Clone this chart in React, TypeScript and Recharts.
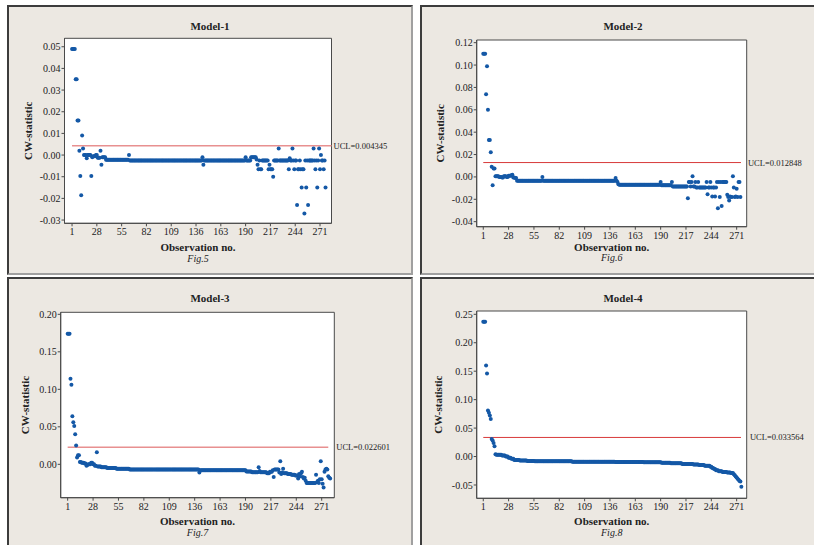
import { Label, ReferenceArea, ReferenceLine, Scatter, ScatterChart, XAxis, YAxis } from "recharts";

const observationTicks = [1, 28, 55, 82, 109, 136, 163, 190, 217, 244, 271];

// each entry: [CW-statistic, number of consecutive observations at that value]
const model1Runs: [number, number][] = [
  [0.049, 4], [0.035, 2], [0.016, 2], [0.002, 1], [-0.0097, 1], [-0.0185, 1], [0.009, 1], [0.003, 1],
  [0, 3], [-0.0015, 1], [0, 4], [-0.0097, 1], [-0.001, 1], [-0.0005, 3], [0, 2], [-0.0012, 3],
  [0.002, 1], [-0.0045, 1], [-0.001, 4], [-0.0022, 25], [0, 1], [-0.0025, 79], [-0.001, 1], [-0.0045, 1],
  [-0.0025, 45], [-0.001, 1], [-0.0025, 5], [-0.001, 6], [-0.002, 1], [-0.0045, 1], [-0.0065, 1], [-0.0025, 1],
  [-0.0065, 2], [-0.0025, 7], [-0.0065, 1], [-0.0045, 1], [-0.0065, 3], [-0.01, 1], [-0.0025, 5], [0.003, 1],
  [-0.0025, 10], [-0.0065, 1], [-0.0015, 1], [-0.0025, 2], [0.003, 1], [-0.0025, 1], [-0.0065, 1], [-0.0025, 2],
  [-0.023, 1], [-0.0065, 2], [-0.0025, 1], [-0.0065, 1], [-0.015, 1], [-0.0065, 2], [-0.027, 1], [-0.0025, 1],
  [-0.015, 1], [-0.0025, 1], [-0.023, 1], [-0.0025, 5], [0.003, 1], [-0.0025, 1], [-0.0065, 1], [-0.0025, 1],
  [-0.015, 1], [-0.0025, 1], [0.003, 1], [-0.0065, 1], [0, 1], [-0.0025, 2], [-0.0065, 1], [-0.0025, 1],
  [-0.015, 1],
];

const model2Runs: [number, number][] = [
  [0.11, 3], [0.074, 1], [0.099, 1], [0.06, 1], [0.033, 2], [0.022, 1], [0.009, 1], [-0.0075, 1],
  [0.0075, 2], [0.0005, 4], [0, 3], [-0.0005, 2], [0.0005, 3], [0, 2], [0.001, 3], [0.0015, 1],
  [0.002, 1], [-0.0005, 2], [-0.001, 2], [-0.0035, 27], [0, 1], [-0.0035, 77], [-0.001, 1], [-0.0035, 1],
  [-0.0045, 1], [-0.0065, 1], [-0.007, 44], [-0.0045, 1], [-0.0075, 11], [-0.0045, 1], [-0.0085, 16], [-0.019, 1],
  [-0.0045, 2], [-0.0085, 1], [-0.0045, 1], [0.0005, 1], [-0.0085, 2], [-0.0045, 1], [-0.0095, 2], [-0.0045, 1],
  [-0.0095, 8], [-0.0045, 1], [-0.0155, 1], [-0.0095, 2], [-0.0045, 1], [-0.0095, 1], [-0.0175, 1], [-0.0095, 2],
  [-0.0175, 1], [-0.0095, 1], [-0.0045, 1], [-0.028, 1], [-0.0045, 1], [-0.018, 1], [-0.0045, 1], [-0.026, 1],
  [-0.0045, 5], [-0.016, 1], [-0.018, 1], [-0.021, 1], [-0.0175, 1], [-0.018, 2], [0.0005, 1], [-0.0095, 1],
  [-0.018, 1], [-0.0175, 1], [-0.0105, 1], [-0.018, 1], [-0.0045, 2], [-0.018, 1],
];

const model3Runs: [number, number][] = [
  [0.174, 3], [0.114, 1], [0.106, 1], [0.064, 1], [0.056, 1], [0.051, 1], [0.04, 1], [0.025, 1],
  [0.009, 1], [0.012, 2], [0.003, 2], [0.002, 3], [0.001, 2], [-0.002, 1], [-0.001, 1], [0, 3],
  [0.002, 2], [0, 2], [-0.002, 2], [0.016, 1], [-0.003, 4], [-0.004, 6], [-0.005, 10], [-0.006, 14],
  [-0.007, 74], [-0.011, 1], [-0.008, 49], [-0.0095, 6], [-0.0105, 7], [-0.004, 1], [-0.009, 1], [-0.0105, 7],
  [-0.012, 3], [-0.01, 3], [-0.008, 1], [-0.017, 1], [-0.007, 5], [-0.011, 1], [0.004, 1], [-0.013, 1],
  [-0.011, 1], [-0.006, 1], [-0.012, 4], [-0.013, 4], [-0.014, 4], [-0.015, 3], [-0.019, 1], [-0.013, 1],
  [-0.016, 1], [-0.012, 1], [-0.01, 1], [-0.017, 1], [-0.019, 1], [-0.018, 1], [-0.022, 1], [-0.025, 10],
  [-0.014, 1], [-0.024, 1], [-0.022, 1], [-0.025, 1], [-0.02, 1], [0.004, 1], [-0.02, 1], [-0.026, 1],
  [-0.031, 1], [-0.01, 1], [-0.007, 1], [-0.006, 1], [-0.007, 1], [-0.016, 1], [-0.018, 1], [-0.019, 1],
];

const model4Runs: [number, number][] = [
  [0.237, 3], [0.16, 1], [0.146, 1], [0.081, 1], [0.077, 1], [0.072, 1], [0.066, 1], [0.031, 1],
  [0.028, 1], [0.024, 1], [0.018, 1], [0.004, 1], [0.003, 6], [0.002, 4], [0, 3], [-0.002, 3],
  [-0.004, 3], [-0.006, 6], [-0.007, 8], [-0.008, 8], [-0.0085, 40], [-0.009, 46], [-0.0095, 30], [-0.01, 19],
  [-0.011, 10], [-0.012, 12], [-0.013, 12], [-0.014, 6], [-0.015, 6], [-0.016, 6], [-0.018, 2], [-0.02, 2],
  [-0.022, 2], [-0.024, 3], [-0.026, 4], [-0.027, 5], [-0.028, 4], [-0.029, 3], [-0.031, 1], [-0.033, 1],
  [-0.035, 1], [-0.037, 1], [-0.039, 1], [-0.041, 1], [-0.043, 1], [-0.044, 1], [-0.053, 1],
];

const model1Ticks = [-0.03, -0.02, -0.01, 0, 0.01, 0.02, 0.03, 0.04, 0.05];
const model2Ticks = [-0.04, -0.02, 0, 0.02, 0.04, 0.06, 0.08, 0.1, 0.12];
const model3Ticks = [0, 0.05, 0.1, 0.15, 0.2];
const model4Ticks = [-0.05, 0, 0.05, 0.1, 0.15, 0.2, 0.25];

const titles = ["Model-1", "Model-2", "Model-3", "Model-4"];
const figLabels = ["Fig.5", "Fig.6", "Fig.7", "Fig.8"];
const uclValues = [0.004345, 0.012848, 0.022601, 0.033564];

const colors = {
  page: "#ffffff",
  panel: "#ece8e2",
  dot: "#1458a6",
  frame: "#4a4a4a",
  text: "#222222",
  uclSoft: "#e89090",
  uclStrong: "#d83a3a",
};

const serif = '"Liberation Serif", "Times New Roman", serif';

type PanelSpec = {
  title: string;
  fig: string;
  runs: [number, number][];
  ucl: number;
  yTicks: number[];
  yDomain: [number, number];
  xDomain: [number, number];
  uclEnd: number;
  uclOffset: number;
  uclColor: string;
  uclWidth: number;
  left: number;
  top: number;
  plot: { axisW: number; top: number; right: number; axisH: number; yLabelX: number; obsDy: number; figDy: number };
};

function expandRuns(runs: [number, number][]) {
  const out: { obs: number; value: number }[] = [];
  let obs = 1;
  for (const [value, count] of runs) {
    for (let i = 0; i < count; i++) out.push({ obs: obs++, value });
  }
  return out;
}

const panels: PanelSpec[] = [
  {
    title: titles[0], fig: figLabels[0], runs: model1Runs, ucl: uclValues[0], yTicks: model1Ticks,
    yDomain: [-0.0315, 0.0539], xDomain: [-7.2, 283.5], uclEnd: 283.5, uclOffset: 2,
    uclColor: colors.uclSoft, uclWidth: 1.5, left: 7, top: 5,
    plot: { axisW: 55.5, top: 31.3, right: 79.5, axisH: 49.7, yLabelX: 19, obsDy: 23.4, figDy: 34.7 },
  },
  {
    title: titles[1], fig: figLabels[1], runs: model2Runs, ucl: uclValues[1], yTicks: model2Ticks,
    yDomain: [-0.0445, 0.1224], xDomain: [-6, 281.7], uclEnd: 275.6, uclOffset: 7,
    uclColor: colors.uclStrong, uclWidth: 1, left: 420, top: 5,
    plot: { axisW: 54.7, top: 33, right: 77.3, axisH: 46.3, yLabelX: 18, obsDy: 20.6, figDy: 31 },
  },
  {
    title: titles[2], fig: figLabels[2], runs: model3Runs, ucl: uclValues[2], yTicks: model3Ticks,
    yDomain: [-0.0445, 0.2027], xDomain: [-6.4, 284.4], uclEnd: 278, uclOffset: 8,
    uclColor: colors.uclSoft, uclWidth: 1.5, left: 7, top: 277,
    plot: { axisW: 51.7, top: 33.3, right: 76.7, axisH: 47.3, yLabelX: 16, obsDy: 23, figDy: 34.6 },
  },
  {
    title: titles[3], fig: figLabels[3], runs: model4Runs, ucl: uclValues[3], yTicks: model4Ticks,
    yDomain: [-0.0734, 0.2558], xDomain: [-6, 281.7], uclEnd: 275.6, uclOffset: 9,
    uclColor: colors.uclStrong, uclWidth: 1, left: 420, top: 277,
    plot: { axisW: 54.7, top: 32, right: 77.3, axisH: 46.7, yLabelX: 16.3, obsDy: 22.4, figDy: 34 },
  },
];

const renderDot = (props: any) => <circle cx={props.cx} cy={props.cy} r={2} fill={colors.dot} />;

function Panel({ spec }: { spec: PanelSpec }) {
  const points = expandRuns(spec.runs);
  const p = spec.plot;
  const tickStyle = { fontSize: 10, fontFamily: serif, fill: colors.text };

  return (
    <div
      style={{
        position: "absolute",
        left: spec.left,
        top: spec.top,
        width: 406,
        height: 270,
        boxSizing: "border-box",
        borderLeft: "2px solid #3c3c3c",
        borderTop: "2px solid #3c3c3c",
        borderRight: "2px solid #a0a0a0",
        borderBottom: "2px solid #a0a0a0",
        background: colors.panel,
      }}
    >
      <div
        style={{
          position: "absolute",
          left: 0,
          top: 12.5,
          width: 402,
          textAlign: "center",
          fontFamily: serif,
          fontWeight: "bold",
          fontSize: 11,
          lineHeight: "13px",
          color: colors.text,
        }}
      >
        {spec.title}
      </div>
      <ScatterChart width={402} height={266} margin={{ top: p.top, right: p.right, left: 0, bottom: 0 }}>
        <ReferenceArea
          x1={spec.xDomain[0]}
          x2={spec.xDomain[1]}
          y1={spec.yDomain[0]}
          y2={spec.yDomain[1]}
          fill="#ffffff"
          fillOpacity={1}
          stroke={colors.frame}
          strokeWidth={1}
          ifOverflow="visible"
        />
        <XAxis
          type="number"
          dataKey="obs"
          domain={spec.xDomain}
          ticks={observationTicks}
          interval={0}
          allowDataOverflow
          height={p.axisH}
          tickSize={3}
          tickMargin={2}
          tick={tickStyle}
          stroke={colors.frame}
        >
          <Label
            content={(props: any) => {
              const vb = props.viewBox;
              return (
                <text
                  x={vb.x + vb.width / 2}
                  y={vb.y + p.obsDy}
                  textAnchor="middle"
                  dominantBaseline="central"
                  fontFamily={serif}
                  fontWeight="bold"
                  fontSize={11}
                  fill={colors.text}
                >
                  Observation no.
                </text>
              );
            }}
          />
          <Label
            content={(props: any) => {
              const vb = props.viewBox;
              return (
                <text
                  x={vb.x + vb.width / 2}
                  y={vb.y + p.figDy}
                  textAnchor="middle"
                  dominantBaseline="central"
                  fontFamily={serif}
                  fontStyle="italic"
                  fontSize={10}
                  fill={colors.text}
                >
                  {spec.fig}
                </text>
              );
            }}
          />
        </XAxis>
        <YAxis
          type="number"
          dataKey="value"
          domain={spec.yDomain}
          ticks={spec.yTicks}
          interval={0}
          allowDataOverflow
          width={p.axisW}
          tickSize={3}
          tickMargin={1}
          tick={tickStyle}
          tickFormatter={(v: number) => v.toFixed(2)}
          stroke={colors.frame}
        >
          <Label
            content={(props: any) => {
              const vb = props.viewBox;
              const cx = vb.x + p.yLabelX;
              const cy = vb.y + vb.height / 2;
              return (
                <text
                  x={cx}
                  y={cy}
                  transform={`rotate(-90 ${cx} ${cy})`}
                  textAnchor="middle"
                  dominantBaseline="central"
                  fontFamily={serif}
                  fontWeight="bold"
                  fontSize={11}
                  fill={colors.text}
                >
                  CW-statistic
                </text>
              );
            }}
          />
        </YAxis>
        <ReferenceLine
          segment={[
            { x: 1, y: spec.ucl },
            { x: spec.uclEnd, y: spec.ucl },
          ]}
          stroke={spec.uclColor}
          strokeWidth={spec.uclWidth}
          ifOverflow="visible"
        >
          <Label
            position="right"
            offset={spec.uclOffset}
            value={`UCL=${spec.ucl}`}
            fontSize={8.5}
            fontFamily={serif}
            fill={colors.text}
          />
        </ReferenceLine>
        <Scatter data={points} dataKey="value" shape={renderDot} isAnimationActive={false} />
      </ScatterChart>
    </div>
  );
}

export default function App() {
  return (
    <div
      style={{
        position: "absolute",
        left: 0,
        top: 0,
        width: 814,
        height: 545,
        overflow: "hidden",
        background: colors.page,
      }}
    >
      {panels.map((spec) => (
        <Panel key={spec.title} spec={spec} />
      ))}
    </div>
  );
}
